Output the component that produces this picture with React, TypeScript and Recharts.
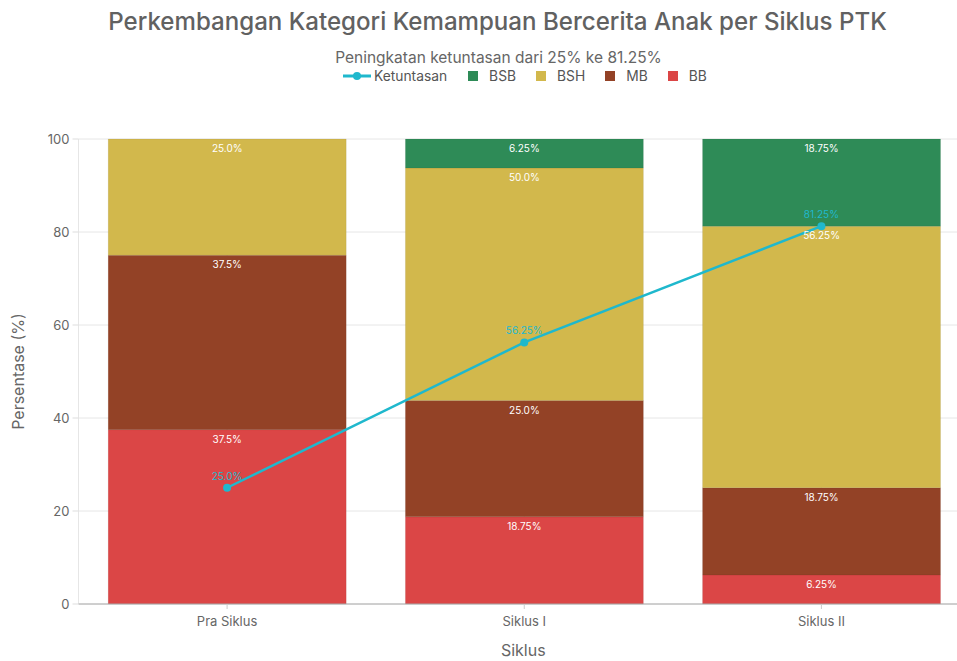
import React from "react";
import {
  ComposedChart,
  Bar,
  Line,
  XAxis,
  YAxis,
  CartesianGrid,
  Label,
  LabelList,
} from "recharts";

const categories = ["Pra Siklus", "Siklus I", "Siklus II"];
const bb = [37.5, 18.75, 6.25];
const mb = [37.5, 25, 18.75];
const bsh = [25, 50, 56.25];
const bsb = [0, 6.25, 18.75];
const ketuntasan = [25, 56.25, 81.25];
const yTicks = [0, 20, 40, 60, 80, 100];

const COLORS = {
  BSB: "#2E8B57",
  BSH: "#D2B84C",
  MB: "#934226",
  BB: "#DB4646",
  line: "#1FB8CD",
};

const data = categories.map((c, i) => ({
  name: c,
  BB: bb[i],
  MB: mb[i],
  BSH: bsh[i],
  BSB: bsb[i],
  Ketuntasan: ketuntasan[i],
}));

const fmt = (v: number) => (Number.isInteger(v) ? v.toFixed(1) : String(v)) + "%";

const FONT = "Inter, 'Open Sans', sans-serif";

const barLabel = (props: any) => {
  const { x, y, width, value } = props;
  if (!value) return null;
  return (
    <text
      x={x + width / 2}
      y={y + 13}
      textAnchor="middle"
      fill="#ffffff"
      fontSize={10}
      fontFamily={FONT}
    >
      {fmt(value)}
    </text>
  );
};

const lineLabel = (props: any) => {
  const { x, y, value } = props;
  return (
    <text
      x={x}
      y={y - 8}
      textAnchor="middle"
      fill={COLORS.line}
      fontSize={10}
      fontFamily={FONT}
    >
      {fmt(value)}
    </text>
  );
};

const legendItems = [
  { name: "BSB", color: COLORS.BSB },
  { name: "BSH", color: COLORS.BSH },
  { name: "MB", color: COLORS.MB },
  { name: "BB", color: COLORS.BB },
];

export default function App() {
  return (
    <div
      style={{
        position: "fixed",
        left: 0,
        top: 0,
        width: 957,
        height: 661,
        overflow: "hidden",
        background: "#fff",
        fontFamily: FONT,
      }}
    >
      <div
        style={{
          position: "absolute",
          left: 0,
          width: 995,
          top: 7,
          textAlign: "center",
          fontSize: 24.1,
          fontWeight: 500,
          color: "#616161",
          letterSpacing: 0,
        }}
      >
        Perkembangan Kategori Kemampuan Bercerita Anak per Siklus PTK
      </div>
      <div
        style={{
          position: "absolute",
          left: 0,
          width: 997,
          top: 48,
          textAlign: "center",
          fontSize: 15.5,
          color: "#666",
        }}
      >
        Peningkatan ketuntasan dari 25% ke 81.25%
      </div>
      <div
        style={{
          position: "absolute",
          left: 343,
          top: 67,
          display: "flex",
          alignItems: "center",
          fontSize: 13.8,
          color: "#555",
          height: 18,
        }}
      >
        <svg width={28} height={12} style={{ marginRight: 3 }}>
          <line x1={0} y1={6} x2={28} y2={6} stroke={COLORS.line} strokeWidth={3} />
          <circle cx={14} cy={6} r={4} fill={COLORS.line} />
        </svg>
        <span style={{ marginRight: 21 }}>Ketuntasan</span>
        {legendItems.map((it) => (
          <React.Fragment key={it.name}>
            <span
              style={{
                display: "inline-block",
                width: 10,
                height: 10,
                background: it.color,
                marginRight: 11,
              }}
            />
            <span style={{ marginRight: 20 }}>{it.name}</span>
          </React.Fragment>
        ))}
      </div>
      <div style={{ position: "absolute", left: 0, top: 0 }}>
        <ComposedChart
          width={970}
          height={661}
          data={data}
          margin={{ top: 139, right: 0, bottom: 0, left: 0 }}
          barCategoryGap="10%"
        >
          <CartesianGrid stroke="#e6e6e6" vertical={true} horizontal={true} />
          <XAxis
            dataKey="name"
            height={57}
            tickSize={5}
            tickMargin={8}
            axisLine={{ stroke: "#aaa" }}
            tickLine={{ stroke: "#ccc" }}
            tick={{ fill: "#666", fontSize: 13, fontFamily: FONT }}
          >
            <Label
              content={(p: any) => {
                const vb = p.viewBox;
                return (
                  <text
                    x={vb.x + vb.width / 2 - 1}
                    y={vb.y + vb.height - 5}
                    textAnchor="middle"
                    fill="#666"
                    fontSize={16}
                    fontFamily={FONT}
                  >
                    Siklus
                  </text>
                );
              }}
            />
          </XAxis>
          <YAxis
            width={78.5}
            domain={[0, 100]}
            ticks={yTicks}
            axisLine={false}
            tickSize={6}
            tickMargin={3}
            tickLine={{ stroke: "#ddd" }}
            tick={{ fill: "#666", fontSize: 13, fontFamily: FONT }}
          >
            <Label
              content={(p: any) => {
                const vb = p.viewBox;
                const cx = 24;
                const cy = vb.y + vb.height / 2;
                return (
                  <text
                    x={cx}
                    y={cy}
                    transform={`rotate(-90 ${cx} ${cy})`}
                    textAnchor="middle"
                    fill="#666"
                    fontSize={16}
                    fontFamily={FONT}
                  >
                    Persentase (%)
                  </text>
                );
              }}
            />
          </YAxis>
          <Bar dataKey="BB" stackId="a" fill={COLORS.BB} stroke="rgba(0,0,0,0.12)" strokeWidth={0.5} isAnimationActive={false}>
            <LabelList dataKey="BB" content={barLabel} />
          </Bar>
          <Bar dataKey="MB" stackId="a" fill={COLORS.MB} stroke="rgba(0,0,0,0.12)" strokeWidth={0.5} isAnimationActive={false}>
            <LabelList dataKey="MB" content={barLabel} />
          </Bar>
          <Bar dataKey="BSH" stackId="a" fill={COLORS.BSH} stroke="rgba(0,0,0,0.12)" strokeWidth={0.5} isAnimationActive={false}>
            <LabelList dataKey="BSH" content={barLabel} />
          </Bar>
          <Bar dataKey="BSB" stackId="a" fill={COLORS.BSB} stroke="rgba(0,0,0,0.12)" strokeWidth={0.5} isAnimationActive={false}>
            <LabelList dataKey="BSB" content={barLabel} />
          </Bar>
          <Line
            type="linear"
            dataKey="Ketuntasan"
            stroke={COLORS.line}
            strokeWidth={2.5}
            dot={{ r: 4, fill: COLORS.line, stroke: COLORS.line, strokeWidth: 0 }}
            activeDot={false}
            isAnimationActive={false}
          >
            <LabelList dataKey="Ketuntasan" content={lineLabel} />
          </Line>
        </ComposedChart>
      </div>
    </div>
  );
}
